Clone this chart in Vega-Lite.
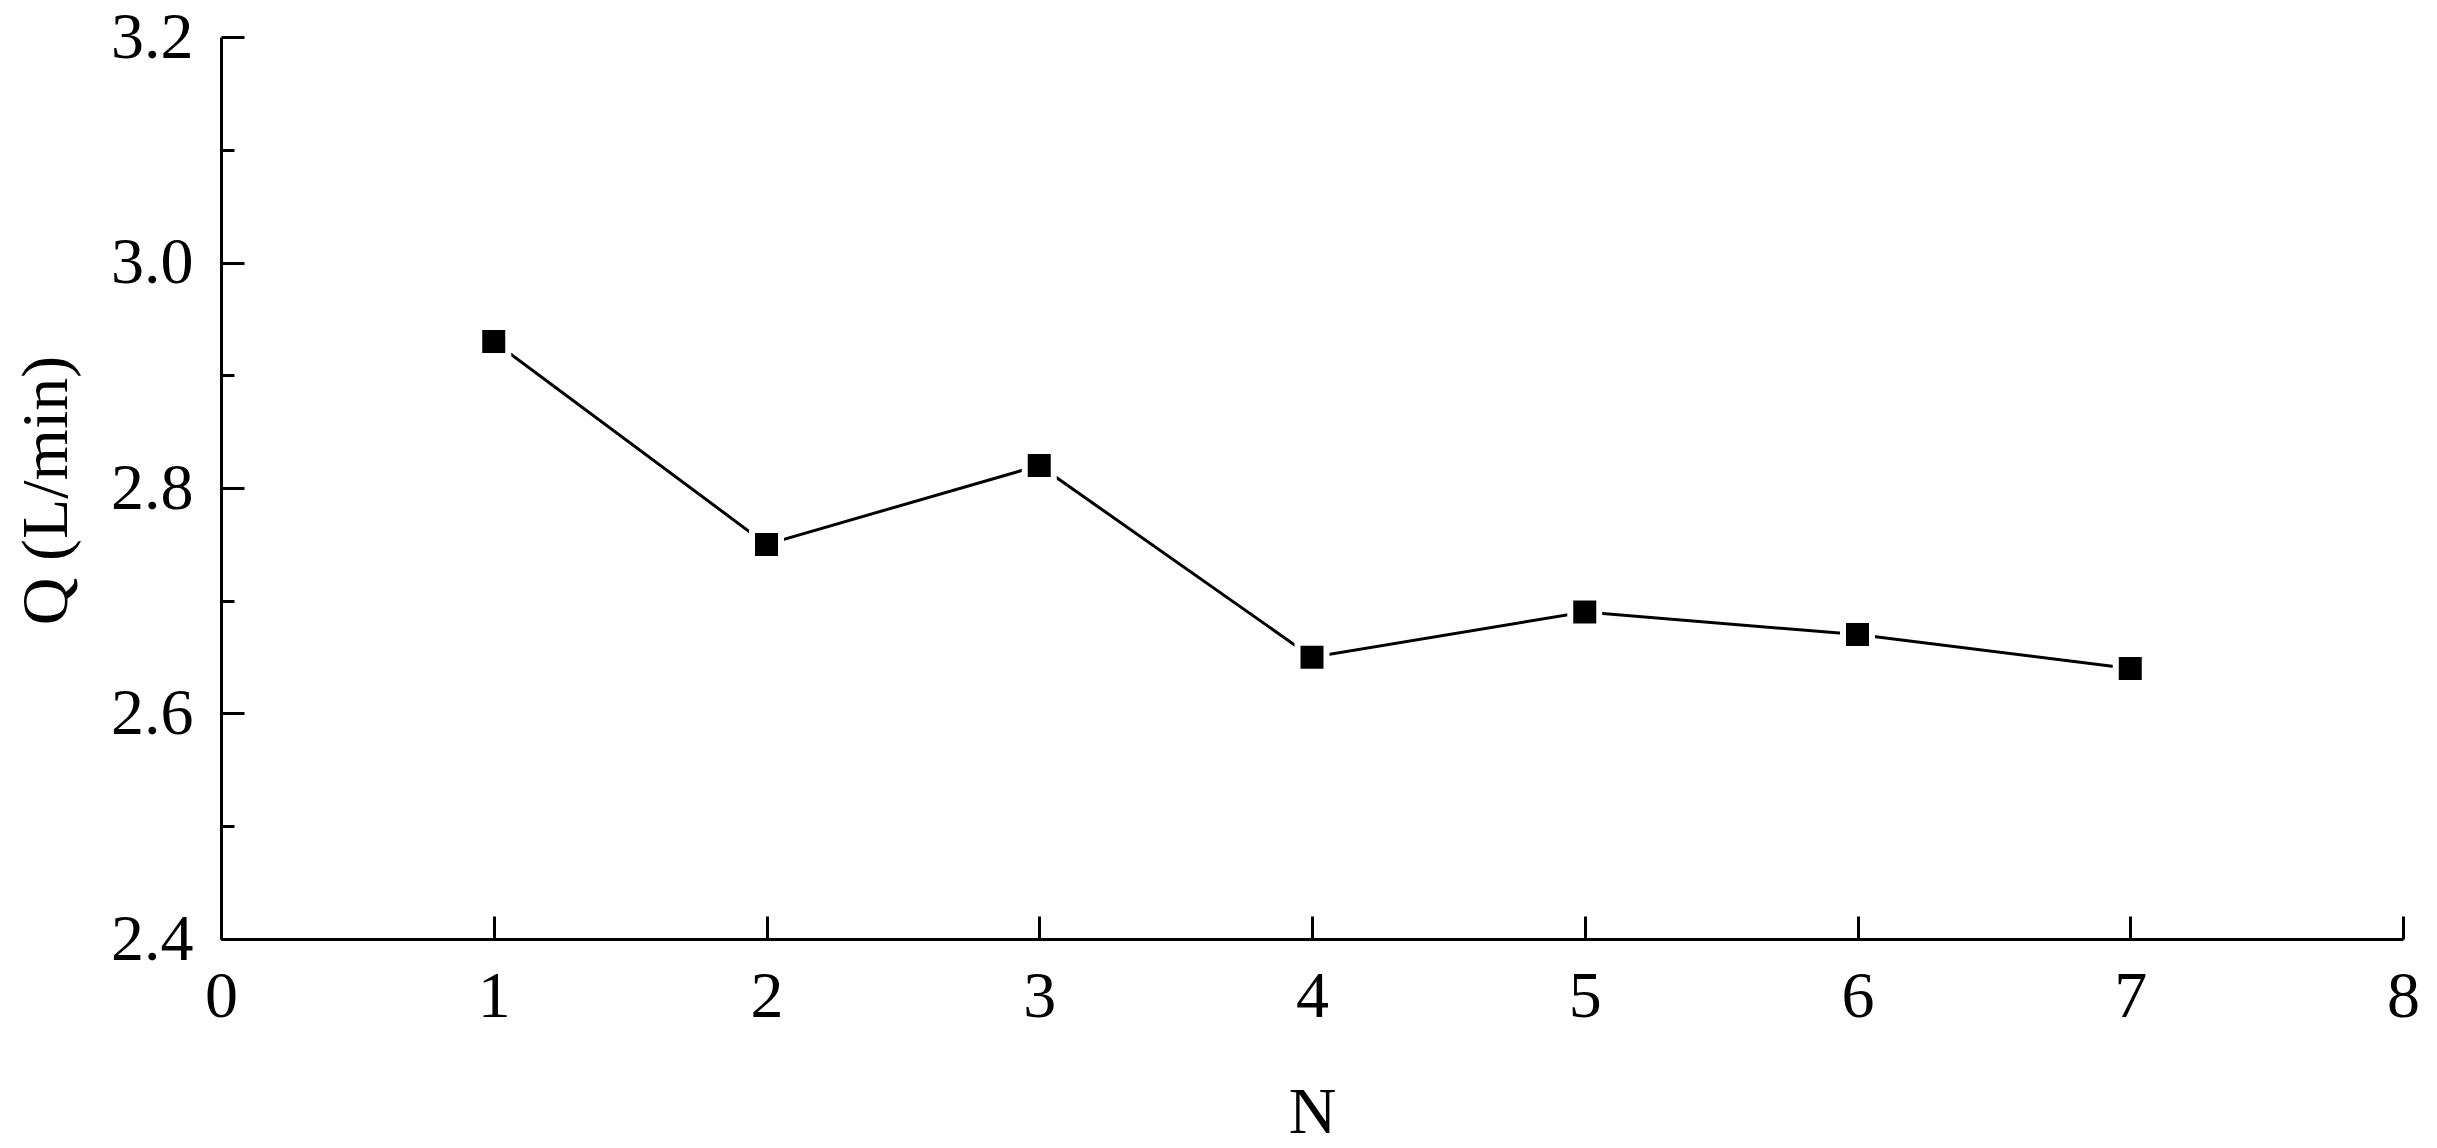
{
  "$schema": "https://vega.github.io/schema/vega-lite/v6.json",
  "width": 2182,
  "height": 902,
  "autosize": {"type": "none"},
  "padding": {"left": 221, "top": 37, "right": 34, "bottom": 209},
  "background": "white",
  "config": {"view": {"stroke": null}, "font": "Liberation Serif"},
  "data": {
    "values": [
      {"N": 1, "Q": 2.93},
      {"N": 2, "Q": 2.75},
      {"N": 3, "Q": 2.82},
      {"N": 4, "Q": 2.65},
      {"N": 5, "Q": 2.69},
      {"N": 6, "Q": 2.67},
      {"N": 7, "Q": 2.64}
    ]
  },
  "encoding": {
    "x": {
      "field": "N",
      "type": "quantitative",
      "scale": {"domain": [0, 8], "nice": false, "zero": false},
      "axis": {
        "values": [0, 1, 2, 3, 4, 5, 6, 7, 8],
        "format": "d",
        "grid": false,
        "domainColor": "black",
        "domainWidth": 3,
        "tickColor": "black",
        "tickWidth": 3,
        "tickSize": -23,
        "labelFontSize": 66,
        "labelColor": "black",
        "labelPadding": 48,
        "labelFlush": false,
        "labelOverlap": false,
        "title": "N",
        "titleFontSize": 66,
        "titleFontWeight": "normal",
        "titleColor": "black",
        "titleX": 1091,
        "titleY": 193,
        "titleAlign": "center",
        "titleBaseline": "alphabetic"
      }
    },
    "y": {
      "field": "Q",
      "type": "quantitative",
      "scale": {"domain": [2.4, 3.2], "nice": false, "zero": false},
      "axis": {
        "values": [2.4, 2.5, 2.6, 2.7, 2.8, 2.9, 3.0, 3.1, 3.2],
        "labelExpr": "round(datum.value*10)%2==0 ? format(datum.value, '.1f') : ''",
        "grid": false,
        "domainColor": "black",
        "domainWidth": 3,
        "tickColor": "black",
        "tickWidth": 3,
        "tickSize": {"condition": {"test": "round(datum.value*10)%2==1", "value": -13}, "value": -23},
        "labelFontSize": 66,
        "labelColor": "black",
        "labelPadding": 51,
        "labelFlush": false,
        "labelOverlap": false,
        "labelBound": false,
        "title": "Q (L/min)",
        "titleFontSize": 66,
        "titleFontWeight": "normal",
        "titleColor": "black",
        "titleAngle": 270,
        "titleX": -155,
        "titleY": 453,
        "titleAlign": "center",
        "titleBaseline": "alphabetic"
      }
    }
  },
  "layer": [
    {"mark": {"type": "line", "color": "black", "strokeWidth": 3}},
    {"mark": {"type": "point", "shape": "square", "filled": true, "fill": "black", "stroke": "white", "strokeWidth": 6, "size": 841, "opacity": 1}}
  ]
}
